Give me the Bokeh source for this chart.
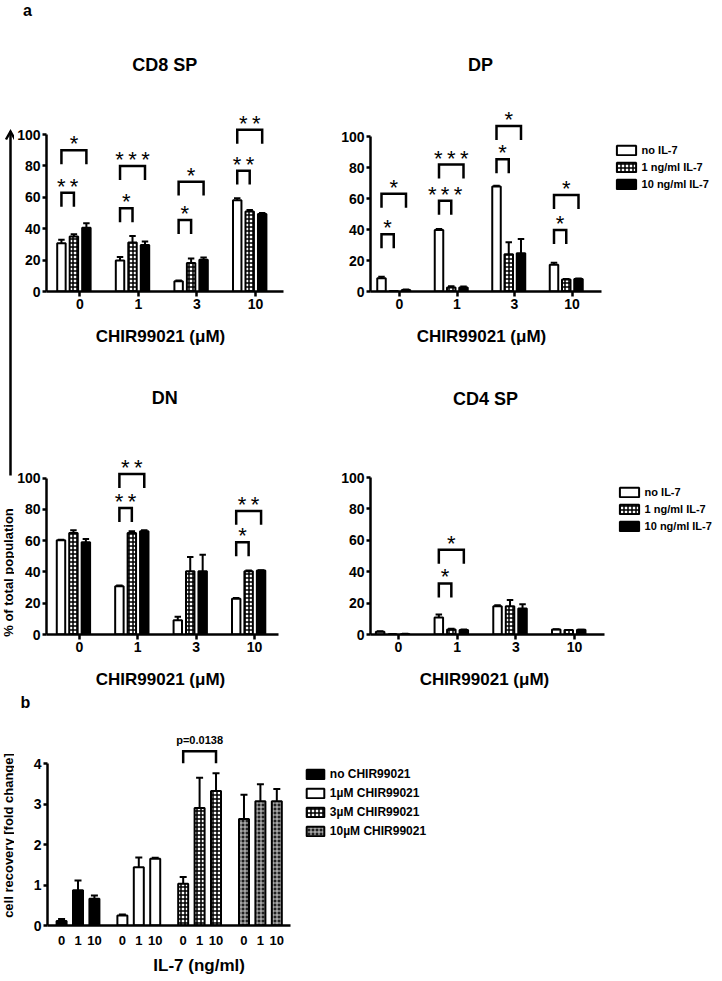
import math
from bokeh.plotting import figure
from bokeh.layouts import column, row
from bokeh.models import (Range1d, FixedTicker, ColumnDataSource, Legend, LegendItem)
from bokeh.core.properties import value
from bokeh.embed import file_html
from bokeh.resources import INLINE

FONT = "Liberation Sans"

# ------------------------------------------------------------------ data
chir_ticks = ["0", "1", "3", "10"]
il7_names = ["no IL-7", "1 ng/ml IL-7", "10 ng/ml IL-7"]

# CD8 SP  (mean, SEM) per IL-7 series, over CHIR 0,1,3,10
cd8_no = [30.8, 19.8, 6.5, 58.2]
cd8_1 = [35.0, 31.2, 18.1, 51.0]
cd8_10 = [40.7, 29.7, 20.3, 49.4]
cd8_no_err = [2.2, 2.2, 0.5, 1.3]
cd8_1_err = [1.5, 4.2, 2.9, 1.0]
cd8_10_err = [2.8, 2.2, 1.4, 0.6]

# DP
dp_no = [8.6, 39.7, 67.7, 17.2]
dp_1 = [0.3, 2.6, 24.1, 7.8]
dp_10 = [0.9, 2.6, 24.6, 8.0]
dp_no_err = [0.9, 0.6, 0.6, 1.3]
dp_1_err = [0.1, 0.8, 7.6, 0.3]
dp_10_err = [0.4, 0.6, 9.2, 0.4]

# DN
dn_no = [60.2, 30.9, 9.1, 22.8]
dn_1 = [64.9, 64.9, 40.4, 40.4]
dn_10 = [58.9, 66.0, 40.4, 40.9]
dn_no_err = [0.4, 0.4, 2.2, 0.6]
dn_1_err = [1.7, 1.1, 9.2, 0.5]
dn_10_err = [2.1, 0.6, 10.6, 0.2]

# CD4 SP
cd4_no = [1.7, 10.8, 18.0, 3.2]
cd4_1 = [0.2, 3.2, 18.0, 2.8]
cd4_10 = [0.3, 2.8, 16.6, 3.0]
cd4_no_err = [0.4, 1.9, 0.7, 0.2]
cd4_1_err = [0.1, 0.4, 3.9, 0.1]
cd4_10_err = [0.1, 0.4, 2.7, 0.1]

# significance brackets: (CHIR group, compared series, bracket level, stars)
cd8_sig = [(0, 1, 62.9, "**"), (0, 2, 90.0, "*"), (1, 1, 53.0, "*"), (1, 2, 80.0, "***"),
           (2, 1, 45.6, "*"), (2, 2, 70.0, "*"), (3, 1, 77.0, "**"), (3, 2, 103.0, "**")]
dp_sig = [(0, 1, 37.0, "*"), (0, 2, 63.0, "*"), (1, 1, 58.6, "***"), (1, 2, 81.9, "***"),
          (2, 1, 85.3, "*"), (2, 2, 106.7, "*"), (3, 1, 39.7, "*"), (3, 2, 62.3, "*")]
dn_sig = [(1, 1, 80.9, "**"), (1, 2, 102.6, "**"), (3, 1, 59.0, "*"), (3, 2, 79.0, "**")]
cd4_sig = [(1, 1, 32.5, "*"), (1, 2, 54.0, "*")]

# panel b: cell recovery (fold change), IL-7 0/1/10 within each CHIR group
il7_ticks = ["0", "1", "10"]
chir_names = ["no CHIR99021", "1\u00b5M CHIR99021", "3\u00b5M CHIR99021", "10\u00b5M CHIR99021"]
rec_no = [0.11, 0.87, 0.66]
rec_1 = [0.25, 1.44, 1.65]
rec_3 = [1.03, 2.90, 3.32]
rec_10 = [2.63, 3.07, 3.07]
rec_no_err = [0.05, 0.24, 0.08]
rec_1_err = [0.02, 0.24, 0.02]
rec_3_err = [0.17, 0.75, 0.44]
rec_10_err = [0.60, 0.42, 0.30]
p_text = "p=0.0138"
p_level = 4.3

# ------------------------------------------------------------------ bar fill styles
STYLES = {
    "white": dict(fill_color="white"),
    "black": dict(fill_color="black"),
    "checker": dict(fill_color="white", hatch_pattern="cross", hatch_scale=4, hatch_weight=1.5,
                    hatch_color="black"),
    "fine": dict(fill_color="#202020", hatch_pattern="cross", hatch_scale=4, hatch_weight=1,
                 hatch_color="#d0d0d0"),
}


# ------------------------------------------------------------------ helpers
def ptext(p, x, y, text, size, bold=True, align="center", baseline="middle", angle=0.0):
    p.text(x=[x], y=[y], text=[text], text_font=value(FONT), text_font_size=size,
           text_font_style="bold" if bold else "normal", text_align=align,
           text_baseline=baseline, angle=angle, text_color="black")


def blank(px0, py0, W, H):
    """annotation strip; its data coordinates are page pixels (y negated)"""
    p = figure(width=W, height=H, output_backend="svg", toolbar_location=None, title=None,
               x_range=Range1d(px0, px0 + W), y_range=Range1d(-(py0 + H), -py0),
               x_axis_type=None, y_axis_type=None)
    p.min_border_left = p.min_border_right = p.min_border_top = p.min_border_bottom = 0
    p.outline_line_color = None
    p.background_fill_color = "white"
    p.border_fill_color = "white"
    return p


class Geo:
    """page-pixel <-> data mapping for one chart figure"""
    def __init__(s, px0, py0, W, H, bl, bb, x0px, sx, sy):
        s.px0, s.py0, s.W, s.H, s.bl, s.bb = px0, py0, W, H, bl, bb
        s.x0px, s.sx, s.sy = x0px, sx, sy
        s.fl = px0 + bl
        s.fb = py0 + H - bb

    def X(s, px):
        return (px - s.x0px) / s.sx

    def Y(s, py):
        return (s.fb - py) / s.sy

    def fig(s):
        p = figure(width=s.W, height=s.H, output_backend="svg", toolbar_location=None, title=None,
                   x_range=Range1d(s.X(s.fl), s.X(s.px0 + s.W)), y_range=Range1d(0, s.Y(s.py0)))
        p.min_border_left = s.bl
        p.min_border_right = 0
        p.min_border_top = 0
        p.min_border_bottom = s.bb
        p.outline_line_color = None
        p.xgrid.visible = False
        p.ygrid.visible = False
        p.background_fill_color = "white"
        p.border_fill_color = "white"
        return p


def style_axes(p, xticks, xover, xbounds, yticks, ybounds, xsize, ysize, xtick_out, xstand):
    xa = p.xaxis[0]
    ya = p.yaxis[0]
    xa.ticker = FixedTicker(ticks=xticks)
    xa.major_label_overrides = xover
    xa.bounds = xbounds
    ya.ticker = FixedTicker(ticks=yticks)
    ya.bounds = ybounds
    for ax in (xa, ya):
        ax.axis_line_width = 2.5
        ax.axis_line_color = "black"
        ax.major_tick_line_width = 2.5
        ax.major_tick_line_color = "black"
        ax.major_tick_in = 0
        ax.minor_tick_line_color = None
        ax.major_label_text_font = FONT
        ax.major_label_text_font_style = "bold"
        ax.major_label_text_color = "black"
    ya.major_tick_out = 4
    ya.major_label_standoff = 2
    ya.major_label_text_font_size = ysize
    xa.major_tick_out = xtick_out
    xa.major_label_standoff = xstand
    xa.major_label_text_font_size = xsize


def draw_bars(p, xs, vals, errs, kind, bw, cw):
    et = [v + e for v, e in zip(vals, errs)]
    src = ColumnDataSource(dict(x=xs, top=vals, et=et,
                                xl=[x - cw / 2 for x in xs], xr=[x + cw / 2 for x in xs]))
    r = p.vbar(x="x", top="top", bottom=0, width=bw, source=src, line_color="black",
               line_width=2, **STYLES[kind])
    p.segment(x0="x", y0="top", x1="x", y1="et", source=src, line_color="black", line_width=2)
    p.segment(x0="xl", y0="et", x1="xr", y1="et", source=src, line_color="black", line_width=2)
    return r


def legend(p, geo, labels, rends, left_px, bottom_px, gw, fsize):
    items = [LegendItem(label=l, renderers=[r]) for l, r in zip(labels, rends)]
    p.add_layout(Legend(items=items, location=(left_px - geo.fl, geo.fb - bottom_px),
                        glyph_width=gw, glyph_height=12, label_height=12, label_standoff=4,
                        spacing=5, padding=0, margin=0, border_line_color=None,
                        background_fill_alpha=0, label_text_font=FONT, label_text_font_size=fsize,
                        label_text_font_style="bold", label_text_color="black"))


OFFS = [-0.313, -0.1, 0.113]   # bar positions relative to the CHIR tick
KINDS = ["white", "checker", "black"]


def bar_panel(geo, vals, errs, sig, title, title_xy, axis_end_px, legend_at=None):
    p = geo.fig()
    style_axes(p, [0, 1, 2, 3], {i: t for i, t in enumerate(chir_ticks)},
               (geo.X(geo.fl), geo.X(axis_end_px)), [0, 20, 40, 60, 80, 100], (0, 100),
               "14px", "14px", 5, 2)
    bw = 8.5 / geo.sx
    cw = 6.5 / geo.sx
    rends = []
    for s in range(3):
        rends.append(draw_bars(p, [g + OFFS[s] for g in range(4)], vals[s], errs[s],
                               KINDS[s], bw, cw))
    leg = 14 / geo.sy
    bxs, bys, tx, ty, tt = [], [], [], [], []
    for g, t, lvl, lab in sig:
        xl = g + OFFS[0]
        xr = g + OFFS[t]
        bxs.append([xl, xl, xr, xr])
        bys.append([lvl - leg, lvl, lvl, lvl - leg])
        tx.append((xl + xr) / 2)
        ty.append(lvl + 6.5 / geo.sy)
        tt.append("\u2009".join(lab))
    if sig:
        p.multi_line(xs=bxs, ys=bys, line_color="black", line_width=2.5, line_join="miter")
        p.text(x=tx, y=ty, text=tt, text_font=value(FONT), text_font_size="22px",
               text_align="center", text_baseline="alphabetic", text_color="black")
    ptext(p, geo.X(title_xy[0]), geo.Y(title_xy[1]), title, "18px")
    if legend_at is not None:
        legend(p, geo, il7_names, rends, legend_at[0], legend_at[1], 24, "11px")
    return p


# ------------------------------------------------------------------ panel a
g_cd8 = Geo(14, 20, 324, 300, 30, 28, 77.5, 59.0, 1.575)
g_dp = Geo(338, 20, 384, 300, 32, 29, 399.0, 57.5, 1.55)
g_dn = Geo(14, 355, 324, 305, 30, 25, 77.0, 58.8, 1.57)
g_cd4 = Geo(338, 355, 384, 305, 32, 26, 398.0, 58.7, 1.57)

p_cd8 = bar_panel(g_cd8, [cd8_no, cd8_1, cd8_10], [cd8_no_err, cd8_1_err, cd8_10_err], cd8_sig,
                  "CD8 SP", (163, 65), 283)
p_dp = bar_panel(g_dp, [dp_no, dp_1, dp_10], [dp_no_err, dp_1_err, dp_10_err], dp_sig,
                 "DP", (480, 64), 601, legend_at=(613.6, 189.5))
p_dn = bar_panel(g_dn, [dn_no, dn_1, dn_10], [dn_no_err, dn_1_err, dn_10_err], dn_sig,
                 "DN", (163, 398), 278)
p_cd4 = bar_panel(g_cd4, [cd4_no, cd4_1, cd4_10], [cd4_no_err, cd4_1_err, cd4_10_err], cd4_sig,
                  "CD4 SP", (485, 398), 604, legend_at=(616.6, 531.5))

band_a = blank(0, 0, 722, 20)
ptext(band_a, 27, -10, "a", "16px")

strip_l = blank(0, 20, 14, 670)
strip_l.line(x=[10, 10], y=[-475, -131], line_color="black", line_width=2.5)
strip_l.line(x=[5.5, 10, 14.5], y=[-139, -131, -139], line_color="black", line_width=2.5,
             line_join="miter")
ptext(strip_l, 7.5, -572, "% of total population", "13px", angle=math.pi / 2)

band_1 = blank(14, 320, 708, 35)
ptext(band_1, 160, -336, "CHIR99021 (\u03bcM)", "17px")
ptext(band_1, 481, -336, "CHIR99021 (\u03bcM)", "17px")

band_2 = blank(14, 660, 708, 30)
ptext(band_2, 160, -679, "CHIR99021 (\u03bcM)", "17px")
ptext(band_2, 484, -679, "CHIR99021 (\u03bcM)", "17px")

# ------------------------------------------------------------------ panel b
band_b = blank(0, 690, 722, 22)
ptext(band_b, 25, -702, "b", "16px")

strip_b = blank(0, 712, 14, 269)
ptext(strip_b, 7.5, -835, "cell recovery [fold change]", "13px", angle=math.pi / 2)

g_b = Geo(14, 712, 708, 240, 33, 27, 77.5, 60.8, 40.5)
pb = g_b.fig()
BOFF = [-0.27, 0.0, 0.27]
b_ticks = [round(g + o, 2) for g in range(4) for o in BOFF]
b_over = {t: il7_ticks[i % 3] for i, t in enumerate(b_ticks)}
style_axes(pb, b_ticks, b_over, (g_b.X(g_b.fl), g_b.X(290)), [0, 1, 2, 3, 4], (0, 4),
           "13px", "14px", 0, 10)
b_kinds = ["black", "white", "checker", "fine"]
b_vals = [rec_no, rec_1, rec_3, rec_10]
b_errs = [rec_no_err, rec_1_err, rec_3_err, rec_10_err]
b_rends = []
for g in range(4):
    b_rends.append(draw_bars(pb, [g + o for o in BOFF], b_vals[g], b_errs[g], b_kinds[g],
                             10 / g_b.sx, 7 / g_b.sx))

bl_leg = 12 / g_b.sy
bx0 = 2 + BOFF[0]
bx1 = 2 + BOFF[2]
pb.multi_line(xs=[[bx0, bx0, bx1, bx1]], ys=[[p_level - bl_leg, p_level, p_level, p_level - bl_leg]],
              line_color="black", line_width=2.5, line_join="miter")
ptext(pb, (bx0 + bx1) / 2, p_level + 5 / g_b.sy, p_text, "11px", baseline="bottom")
legend(pb, g_b, chir_names, b_rends, 303.8, 837.5, 22, "12px")

band_c = blank(14, 952, 708, 29)
ptext(band_c, 173, -965, "IL-7 (ng/ml)", "17px")

layout = column(
    band_a,
    row(strip_l, column(row(p_cd8, p_dp), band_1, row(p_dn, p_cd4), band_2)),
    band_b,
    row(strip_b, column(pb, band_c)),
)
open("out.html", "w").write(file_html(layout, INLINE))
